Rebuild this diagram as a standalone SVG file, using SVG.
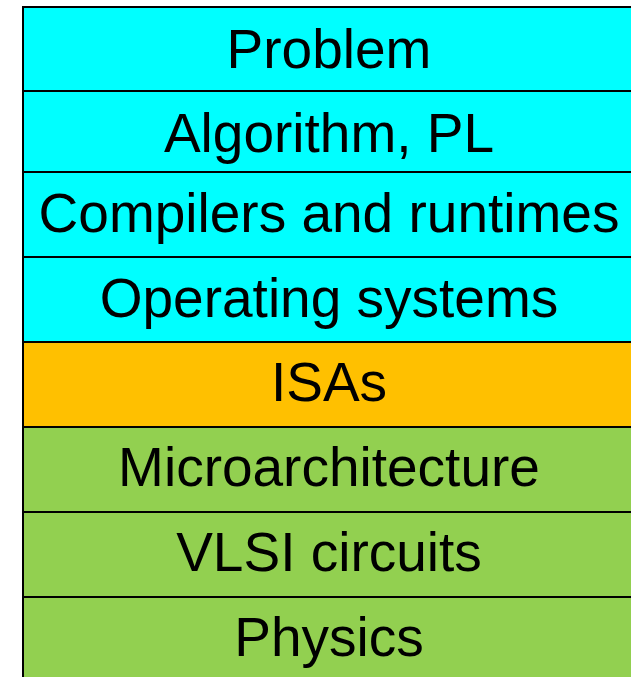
<svg xmlns="http://www.w3.org/2000/svg" width="631" height="677" viewBox="0 0 631 677">
  <style>
    .layer rect { stroke: #000000; stroke-width: 2; }
    .sw { fill: #00FFFF; }
    .isa { fill: #FFC000; }
    .hw { fill: #92D050; }
    text { font-family: "Liberation Sans", Arial, sans-serif; font-size: 55px; fill: #000000; text-anchor: middle; }
  </style>
  <rect width="631" height="677" fill="#FFFFFF"/>
  <g id="problem" class="layer"><rect class="sw" x="23" y="7" width="620" height="84"/><text x="329" y="68">Problem</text></g>
  <g id="algorithm" class="layer"><rect class="sw" x="23" y="91" width="620" height="81"/><text x="329" y="152">Algorithm, PL</text></g>
  <g id="compilers" class="layer"><rect class="sw" x="23" y="172" width="620" height="85"/><text x="329" y="232">Compilers and runtimes</text></g>
  <g id="os" class="layer"><rect class="sw" x="23" y="257" width="620" height="85"/><text x="329" y="317">Operating systems</text></g>
  <g id="isa" class="layer"><rect class="isa" x="23" y="342" width="620" height="85"/><text x="329" y="401">ISAs</text></g>
  <g id="microarch" class="layer"><rect class="hw" x="23" y="427" width="620" height="85"/><text x="329" y="486">Microarchitecture</text></g>
  <g id="vlsi" class="layer"><rect class="hw" x="23" y="512" width="620" height="85"/><text x="329" y="571">VLSI circuits</text></g>
  <g id="physics" class="layer"><rect class="hw" x="23" y="597" width="620" height="90"/><text x="329" y="656">Physics</text></g>
  <g id="connectors"/>
</svg>
